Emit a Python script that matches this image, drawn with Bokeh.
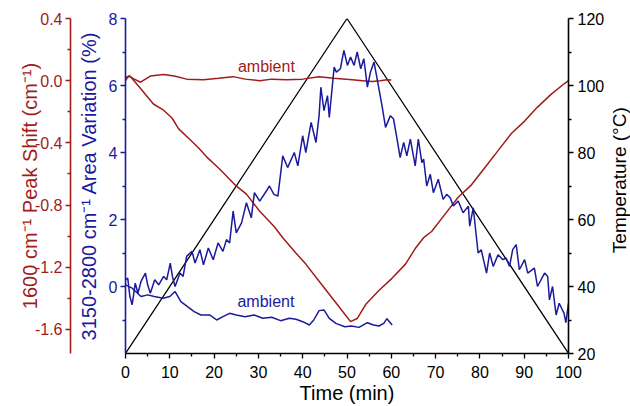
import math
from bokeh.plotting import figure
from bokeh.layouts import row
from bokeh.models import Range1d, LinearAxis, FixedTicker, NumeralTickFormatter, Label
from bokeh.embed import file_html
from bokeh.resources import INLINE

# ---------------- data ----------------
temp_time = [0, 50, 100]
temp_values = [20, 120, 20]

shift_time = [0, 1, 3.4, 6.3, 8.6, 10.5, 12, 14.6, 16.4, 18.3, 21.3, 24.7, 27.3, 30.3,
              33.6, 35.5, 38.5, 40.7, 43.7, 46.7, 48.9, 50.8, 52.3, 54.2, 57.2, 60.2,
              63.2, 65.4, 67.3, 69.1, 72.1, 75.1, 78.1, 81.1, 84.1, 87.1, 90.1, 93.0,
              96.0, 99.0, 100]
shift_values = [0.02, 0.03, -0.05, -0.15, -0.19, -0.24, -0.31, -0.38, -0.43, -0.49, -0.57,
                -0.67, -0.73, -0.84, -0.94, -1.01, -1.11, -1.18, -1.29, -1.40, -1.48, -1.55,
                -1.53, -1.44, -1.35, -1.27, -1.18, -1.08, -1.01, -0.97, -0.86, -0.75, -0.67,
                -0.56, -0.45, -0.34, -0.26, -0.17, -0.09, -0.02, 0.0]

shift_amb_time = [0, 0.7, 2, 3.4, 5.6, 8.6, 11, 13.8, 17.6, 21, 24.3, 27, 30.3, 33, 36.3,
                  40, 43.7, 47, 51.2, 53.5, 55.7, 57.5, 59, 60]
shift_amb_values = [0.0, 0.03, 0.01, -0.01, 0.03, 0.04, 0.03, 0.01, 0.006, 0.015, 0.026,
                    0.01, 0.0, 0.01, 0.006, 0.01, 0.026, 0.015, 0.006, 0.0, -0.006, 0.0,
                    0.006, 0.005]

area_time = [0.0, 0.5, 1.0, 1.5, 2.2, 2.8, 3.5, 4.5, 5.0, 5.6, 6.6, 7.5, 8.6, 9.3, 10.1,
             10.6, 11.2, 12.3, 13.0, 13.8, 15.0, 15.7, 16.8, 17.6, 18.7, 19.8, 20.9, 22.0,
             22.8, 23.5, 24.3, 25.0, 26.2, 27.3, 28.4, 29.1, 30.3, 31.8, 32.5, 33.5, 34.4,
             35.5, 36.6, 38.1, 38.9, 40.0, 40.7, 41.9, 43.0, 43.7, 44.1, 44.8, 45.6, 46.0,
             47.1, 47.6, 48.5, 49.3, 50.1, 50.8, 51.6, 52.3, 53.1, 53.8, 54.6, 55.3, 56.1,
             56.8, 57.9, 58.7, 59.8, 60.5, 61.3, 62.0, 62.8, 63.5, 64.3, 65.4, 66.1, 66.9,
             67.3, 68.0, 68.8, 69.5, 70.6, 71.7, 72.5, 73.3, 74.0, 75.1, 76.2, 77.4, 77.7,
             78.5, 79.6, 80.3, 81.5, 82.2, 83.0, 84.1, 85.2, 85.9, 86.7, 87.4, 88.2, 88.9,
             90.1, 90.8, 92.3, 93.0, 94.6, 95.3, 95.7, 96.4, 97.2, 97.9, 99.0, 99.4, 100.0]
area_values = [0.2, 0.25, -0.3, -0.55, 0.1, -0.2, 0.15, 0.4, 0.05, -0.2, 0.2, 0.05, 0.3,
               0.2, 0.7, 0.3, 0.0, 0.4, 0.3, 0.9, 1.05, 0.7, 1.1, 0.65, 1.15, 0.8, 1.3, 1.05,
               1.4, 1.3, 2.25, 1.6, 1.9, 2.5, 2.05, 2.8, 2.55, 2.85, 3.0, 2.75, 2.7, 3.9,
               3.55, 4.0, 3.6, 4.5, 4.0, 4.9, 4.3, 5.1, 5.95, 5.25, 5.7, 5.05, 6.55, 6.4, 6.5,
               7.05, 6.6, 6.85, 6.6, 7.0, 6.5, 6.8, 5.95, 6.4, 6.7, 6.2, 5.4, 4.75, 5.1, 5.0,
               4.4, 3.85, 4.3, 3.9, 4.4, 3.6, 4.4, 3.7, 3.8, 3.0, 3.35, 2.8, 3.2, 2.6, 2.75,
               2.65, 2.4, 2.55, 2.2, 2.4, 1.8, 2.35, 1.0, 1.1, 0.4, 1.0, 0.6, 0.95, 0.8, 0.85,
               0.6, 1.1, 1.25, 0.5, 0.8, 0.4, 0.55, 0.0, 0.4, 0.3, -0.4, 0.0, -0.85, -0.5,
               -0.8, -1.08, -0.5]

area_amb_time = [0, 1.5, 3.5, 5, 6.5, 8.5, 10, 11.2, 12.5, 14, 15.5, 17, 19, 20.6, 22, 23.5,
                 25, 27, 29, 31, 33, 35, 37, 38.5, 40, 41.5, 42.5, 43.7, 44.8, 46, 47.5,
                 49.5, 51, 52.7, 54.6, 56, 57.2, 58.3, 59, 60.2]
area_amb_values = [0.05, -0.05, -0.3, -0.25, -0.3, -0.35, -0.3, -0.15, -0.45, -0.6, -0.75,
                   -0.85, -0.85, -1.0, -0.9, -0.8, -0.85, -0.9, -0.85, -0.95, -0.92, -1.02,
                   -0.95, -0.98, -1.05, -1.15, -1.0, -0.72, -0.7, -0.95, -1.1, -1.2, -1.18,
                   -1.22, -1.08, -1.15, -1.18, -1.1, -0.96, -1.15]

x_ticks = [0, 10, 20, 30, 40, 50, 60, 70, 80, 90, 100]
area_ticks = [0, 2, 4, 6, 8]
shift_ticks = [-1.6, -1.2, -0.8, -0.4, 0.0, 0.4]
temp_ticks = [20, 40, 60, 80, 100, 120]

# ---------------- style ----------------
RED = "#A01C1C"
BLUE = "#1A1A9C"
BLACK = "#000000"
FONT = "Liberation Sans"
TICK_FS = "16px"
LAB_FS = "20px"

p = figure(width=607, height=406, output_backend="svg", toolbar_location=None,
           x_range=Range1d(0, 100), y_range=Range1d(-2, 8),
           min_border_left=125, min_border_right=36, min_border_top=18,
           min_border_bottom=53)
p.extra_y_ranges = {"shift": Range1d(-1.755, 0.4), "temp": Range1d(20, 120)}
p.outline_line_color = None
p.xgrid.visible = False
p.ygrid.visible = False


def style_axis(ax, color, ticks, minor):
    ax.ticker = FixedTicker(ticks=ticks, minor_ticks=minor)
    ax.axis_line_color = color
    ax.axis_line_width = 1.6
    ax.major_tick_line_color = color
    ax.minor_tick_line_color = color
    ax.major_tick_line_width = 1.3
    ax.minor_tick_line_width = 1.3
    ax.major_tick_in = 0
    ax.major_tick_out = 5
    ax.minor_tick_in = 0
    ax.minor_tick_out = 3
    ax.major_label_text_color = color
    ax.major_label_text_font = FONT
    ax.major_label_text_font_size = TICK_FS
    ax.axis_label_text_color = color
    ax.axis_label_text_font = FONT
    ax.axis_label_text_font_size = LAB_FS
    ax.axis_label_text_font_style = "normal"


# x axis
xa = p.xaxis[0]
style_axis(xa, BLACK, x_ticks, [5, 15, 25, 35, 45, 55, 65, 75, 85, 95])
xa.axis_label = "Time (min)"
xa.major_label_standoff = 7
xa.axis_label_standoff = 1

# blue (primary) left axis
ya = p.yaxis[0]
style_axis(ya, BLUE, area_ticks, [-1, 1, 3, 5, 7])
ya.axis_label = "3150-2800 cm\u207b\u00b9 Area Variation (%)"
ya.major_label_standoff = 3
ya.axis_label_standoff = 6

# spacer axis (invisible, only adds a few pixels between the two left axes)
spacer = LinearAxis(ticker=FixedTicker(ticks=[-1.9], minor_ticks=[]), axis_line_color=None,
                    major_tick_line_color=None, minor_tick_line_color=None,
                    major_tick_in=0, major_tick_out=0, minor_tick_out=0,
                    major_label_standoff=0, major_label_overrides={-1.9: "0"},
                    major_label_text_color="white", major_label_text_font_size="1px")
p.add_layout(spacer, "left")

# red left axis
ra = LinearAxis(y_range_name="shift")
style_axis(ra, RED, shift_ticks, [-1.4, -1.0, -0.6, -0.2, 0.2])
ra.formatter = NumeralTickFormatter(format="0.0")
ra.axis_label = "1600 cm\u207b\u00b9 Peak Shift (cm\u207b\u00b9)"
ra.major_label_standoff = 3
ra.axis_label_standoff = -9
p.add_layout(ra, "left")

# right temperature axis
ta = LinearAxis(y_range_name="temp")
style_axis(ta, BLACK, temp_ticks, [30, 50, 70, 90, 110])
ta.major_label_standoff = 4
p.add_layout(ta, "right")

# ---------------- lines ----------------
p.line(temp_time, temp_values, y_range_name="temp", line_color=BLACK, line_width=1.3)
p.line(shift_time, shift_values, y_range_name="shift", line_color=RED, line_width=1.5)
p.line(shift_amb_time, shift_amb_values, y_range_name="shift", line_color=RED, line_width=1.5)
p.line(area_time, area_values, line_color=BLUE, line_width=1.5)
p.line(area_amb_time, area_amb_values, line_color=BLUE, line_width=1.5)

# ---------------- labels ----------------
p.add_layout(Label(x=31.8, y=0.09, y_range_name="shift", text="ambient",
                   text_color=RED, text_font=FONT, text_font_size=TICK_FS,
                   text_align="center", text_baseline="middle"))
p.add_layout(Label(x=31.7, y=-0.45, text="ambient",
                   text_color=BLUE, text_font=FONT, text_font_size=TICK_FS,
                   text_align="center", text_baseline="middle"))

# narrow strip on the right carrying the temperature axis title (reads bottom-to-top)
p2 = figure(width=23, height=406, output_backend="svg", toolbar_location=None,
            x_range=Range1d(0, 1), y_range=Range1d(0, 406),
            min_border_left=0, min_border_right=0, min_border_top=0, min_border_bottom=0)
p2.xaxis.visible = False
p2.yaxis.visible = False
p2.xgrid.visible = False
p2.ygrid.visible = False
p2.outline_line_color = None
p2.add_layout(Label(x=0.5, y=210, text="Temperature (\u00b0C)", text_color=BLACK,
                    text_font=FONT, text_font_size="19px", angle=90, angle_units="deg",
                    text_align="center", text_baseline="middle"))

layout = row(p, p2, spacing=0)

open("out.html", "w").write(file_html(layout, INLINE))
